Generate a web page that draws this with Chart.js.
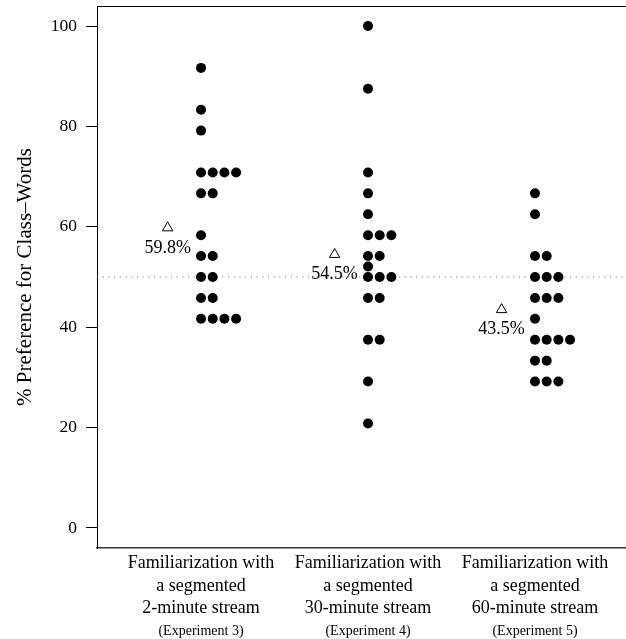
<!DOCTYPE html>
<html>
<head>
<meta charset="utf-8">
<title>Preference for class-words</title>
<script src="https://cdn.jsdelivr.net/npm/chart.js@4/dist/chart.umd.min.js"></script>
<style>
  html, body { margin: 0; padding: 0; background: #fff; }
</style>
</head>
<body>
<canvas id="stripChart" width="626" height="639"></canvas>
<script>
// scores per participant (% class-word choices), one list per experiment
var exp3Scores = [91.67, 83.33, 79.17, 70.83, 70.83, 70.83, 70.83, 66.67, 66.67, 58.33,
                  54.17, 54.17, 50, 50, 45.83, 45.83, 41.67, 41.67, 41.67, 41.67];
var exp4Scores = [100, 87.5, 70.83, 66.67, 62.5, 58.33, 58.33, 58.33, 54.17, 54.17,
                  52.08, 50, 50, 50, 45.83, 45.83, 37.5, 37.5, 29.17, 20.83];
var exp5Scores = [66.67, 62.5, 54.17, 54.17, 50, 50, 50, 45.83, 45.83, 45.83,
                  41.67, 37.5, 37.5, 37.5, 37.5, 33.33, 33.33, 29.17, 29.17, 29.17];

var groupMeans = [59.8, 54.5, 43.5];
var groupLabels = [
  ["Familiarization with", "a segmented", "2-minute stream"],
  ["Familiarization with", "a segmented", "30-minute stream"],
  ["Familiarization with", "a segmented", "60-minute stream"]
];
var experimentLabels = ["(Experiment 3)", "(Experiment 4)", "(Experiment 5)"];
var yTicks = [0, 20, 40, 60, 80, 100];
var chanceLevel = 50;

var X_MIN = 0.377, X_MAX = 3.545;
var STACK_STEP = 0.07;   // sideways shift for tied scores
var MEAN_SHIFT = -0.2;   // mean marker sits left of each column

// tied values get stacked to the right, like stripchart(method = "stack")
function stackPoints(scores, xPos) {
  var seen = {};
  return scores.map(function (v) {
    var k = seen[v] || 0;
    seen[v] = k + 1;
    return { x: xPos + k * STACK_STEP, y: v };
  });
}

var meanPoints = groupMeans.map(function (m, i) {
  return { x: i + 1 + MEAN_SHIFT, y: m };
});

// "59.8%" etc under each triangle
var meanLabelPlugin = {
  id: "meanLabels",
  afterDatasetsDraw: function (chart) {
    var meta = chart.getDatasetMeta(4);
    var ctx = chart.ctx;
    ctx.save();
    ctx.font = "18px 'Liberation Serif'";
    ctx.fillStyle = "#000";
    ctx.textAlign = "center";
    ctx.textBaseline = "middle";
    meta.data.forEach(function (el, i) {
      ctx.fillText(groupMeans[i].toFixed(1) + "%", el.x, el.y + 20);
    });
    ctx.restore();
  }
};

Chart.defaults.font.family = "'Liberation Serif'";
Chart.defaults.color = "#000";

function fixedTicks(values) {
  return function (scale) {
    scale.ticks = values.map(function (v) { return { value: v }; });
  };
}

// fixed box size, and no extra room reserved for overhanging labels
function fixSize(prop, size) {
  return function (scale) {
    scale[prop] = size;
    scale.paddingTop = 0;
    scale.paddingBottom = 0;
    scale.paddingLeft = 0;
    scale.paddingRight = 0;
  };
}

var ctx = document.getElementById("stripChart").getContext("2d");
var stripChart = new Chart(ctx, {
  type: "scatter",
  data: {
    datasets: [
      {
        // chance level
        data: [{ x: X_MIN, y: chanceLevel }, { x: X_MAX, y: chanceLevel }],
        showLine: true,
        borderColor: "#666",
        borderWidth: 1,
        borderDash: [1, 4.7],
        pointRadius: 0,
        order: 5
      },
      { data: stackPoints(exp3Scores, 1), backgroundColor: "#000", borderWidth: 0, pointRadius: 5, order: 1 },
      { data: stackPoints(exp4Scores, 2), backgroundColor: "#000", borderWidth: 0, pointRadius: 5, order: 1 },
      { data: stackPoints(exp5Scores, 3), backgroundColor: "#000", borderWidth: 0, pointRadius: 5, order: 1 },
      {
        data: meanPoints,
        pointStyle: "triangle",
        pointRadius: 6,
        backgroundColor: "rgba(255,255,255,0)",
        borderColor: "#000",
        borderWidth: 1,
        order: 0
      }
    ]
  },
  options: {
    responsive: false,
    animation: false,
    layout: { padding: 0, autoPadding: false },
    plugins: {
      legend: { display: false },
      tooltip: { enabled: false }
    },
    scales: {
      x: {
        type: "linear",
        position: "bottom",
        weight: 0,
        min: X_MIN,
        max: X_MAX,
        bounds: "data",
        afterBuildTicks: fixedTicks([1, 2, 3]),
        afterFit: fixSize("height", 70),
        grid: { display: false, drawTicks: false },
        border: { display: true, color: "#333", width: 1.5 },
        ticks: {
          autoSkip: false,
          maxRotation: 0,
          padding: 4,
          font: { size: 18, lineHeight: 1.26 },
          callback: function (value, index) { return groupLabels[index]; }
        }
      },
      xExp: {
        type: "linear",
        position: "bottom",
        weight: 1,
        min: X_MIN,
        max: X_MAX,
        bounds: "data",
        afterBuildTicks: fixedTicks([1, 2, 3]),
        afterFit: fixSize("height", 21),
        grid: { display: false, drawTicks: false },
        border: { display: false },
        ticks: {
          autoSkip: false,
          maxRotation: 0,
          padding: 5,
          font: { size: 14, lineHeight: 1.2 },
          callback: function (value, index) { return experimentLabels[index]; }
        }
      },
      xTop: {
        type: "linear",
        position: "top",
        min: X_MIN,
        max: X_MAX,
        afterFit: fixSize("height", 6),
        grid: { display: false, drawTicks: false },
        border: { display: true, color: "#000", width: 1 },
        ticks: { display: false }
      },
      y: {
        type: "linear",
        min: -4,
        max: 104,
        bounds: "data",
        afterBuildTicks: fixedTicks(yTicks),
        afterFit: fixSize("width", 97),
        grid: {
          display: true,
          drawOnChartArea: false,
          drawTicks: true,
          tickLength: 11,
          color: "#000"
        },
        border: { display: true, color: "#000", width: 1 },
        ticks: {
          padding: 9,
          font: { size: 17.5 }
        },
        title: {
          display: true,
          text: "% Preference for Class–Words",
          font: { size: 21 },
          padding: { top: 13, bottom: 0 }
        }
      }
    }
  },
  plugins: [meanLabelPlugin]
});
</script>
</body>
</html>
